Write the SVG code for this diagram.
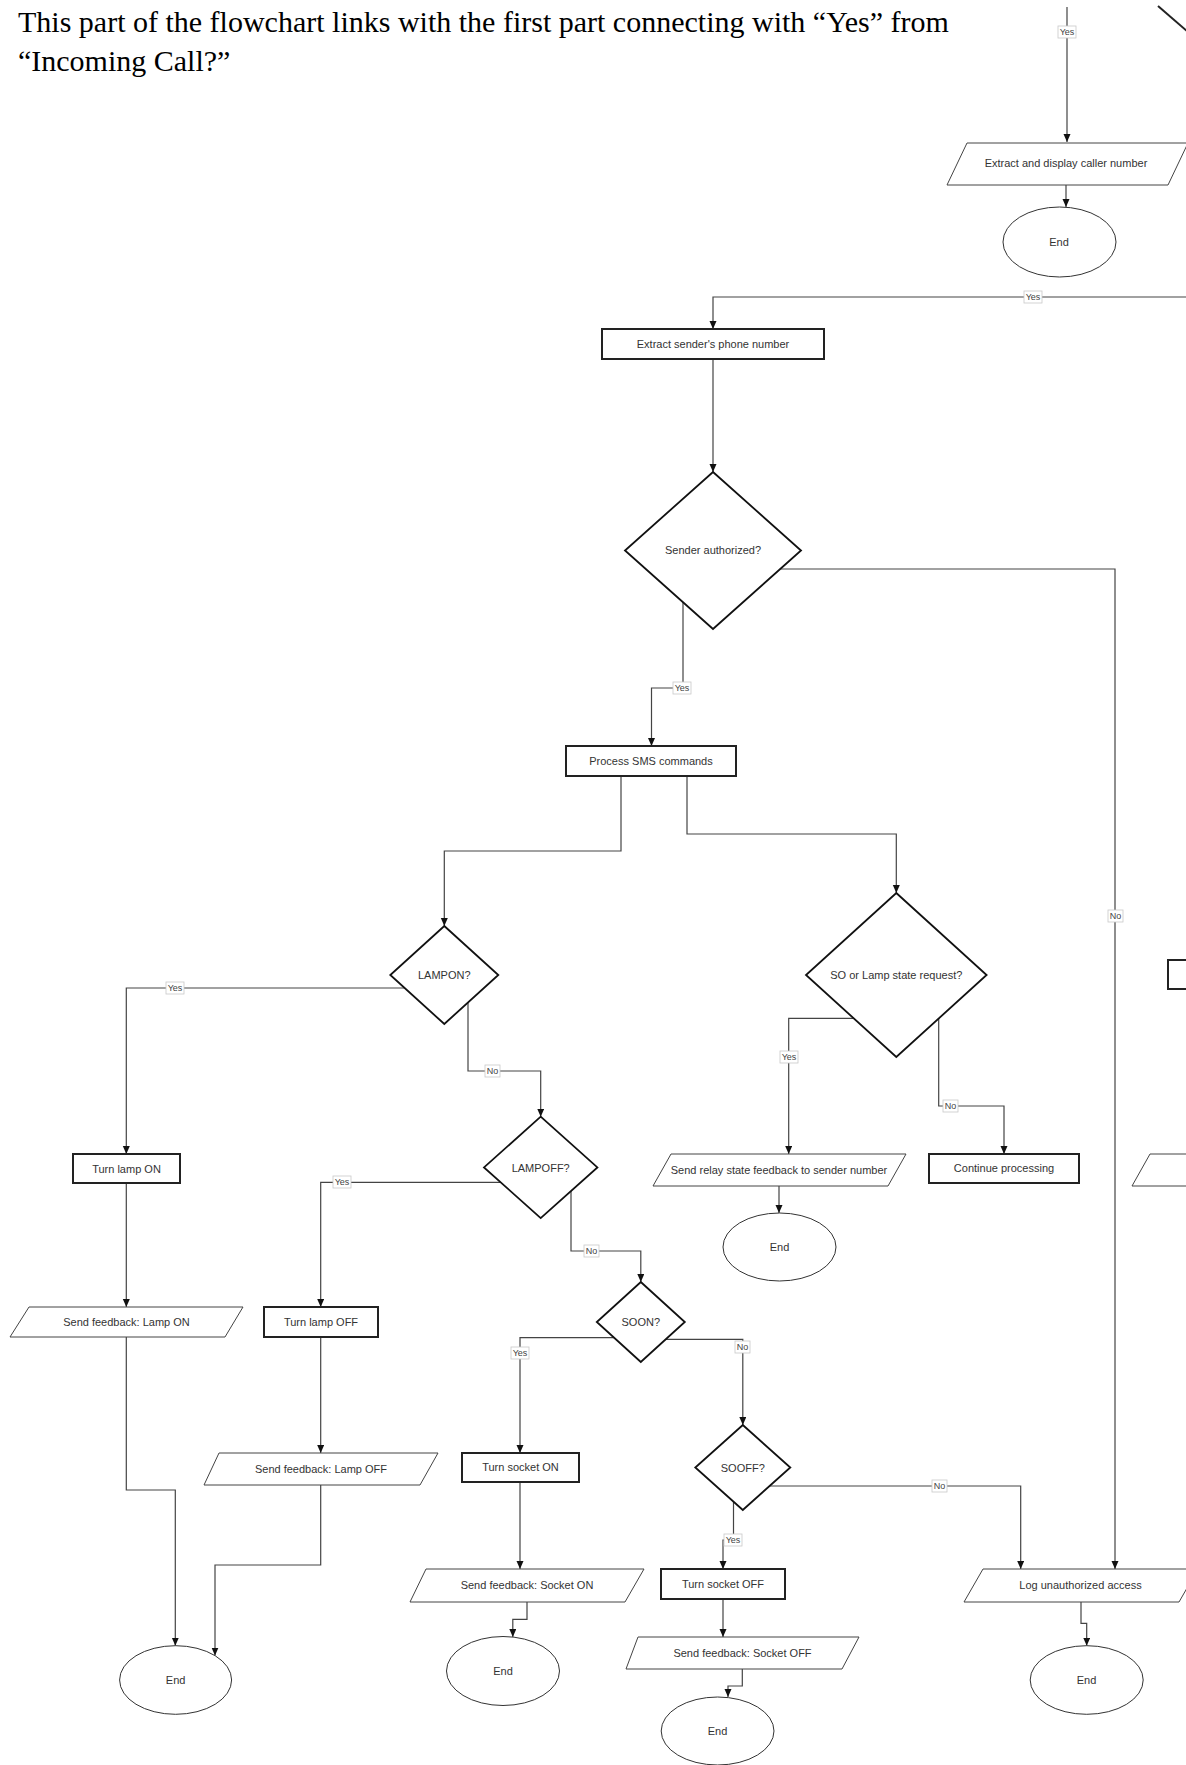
<svg xmlns="http://www.w3.org/2000/svg" width="1186" height="1765" viewBox="0 0 1186 1765">
<defs>
<marker id="arr" markerUnits="userSpaceOnUse" markerWidth="9" markerHeight="8" refX="8" refY="3.5" orient="auto">
<path d="M0,0 L8,3.5 L0,7 z" fill="#111"/>
</marker>
<style>
.t{font-family:"Liberation Sans",Arial,sans-serif;font-size:11px;fill:#333;text-anchor:middle;dominant-baseline:central}
.lb{font-family:"Liberation Sans",Arial,sans-serif;font-size:9px;fill:#444;text-anchor:middle;dominant-baseline:central}
.lbox{fill:#fff;stroke:#c8c8c8;stroke-width:0.8}
.rect{fill:#fff;stroke:#222;stroke-width:2}
.dia{fill:#fff;stroke:#111;stroke-width:1.8}
.para{fill:#fff;stroke:#444;stroke-width:1}
.ell{fill:#fff;stroke:#333;stroke-width:1}
.c{fill:none;stroke:#444;stroke-width:1.2;marker-end:url(#arr)}
.title{font-family:"Liberation Serif","Times New Roman",serif;font-size:30px;fill:#000}
</style>
</defs>
<rect width="1186" height="1765" fill="#fff"/>
<text class="title" x="18" y="32">This part of the flowchart links with the first part connecting with “Yes” from</text>
<text class="title" x="18" y="71">“Incoming Call?”</text>

<g id="connectors">
<path class="c" d="M1067,7 V142"/>
<path class="c" d="M1066,185 V207"/>
<path class="c" d="M1186,297 H713 V329"/>
<path class="c" d="M713,359 V472"/>
<path class="c" d="M780,569 H1115 V1569"/>
<path class="c" d="M683,602 V688 H651.5 V746"/>
<path class="c" d="M621,776 V851 H444.3 V926"/>
<path class="c" d="M687,776 V834 H896.3 V893"/>
<path class="c" d="M405,988 H126.3 V1154"/>
<path class="c" d="M468,1003 V1071 H540.7 V1116.7"/>
<path class="c" d="M500.7,1182.3 H320.7 V1307"/>
<path class="c" d="M571,1191 V1251 H640.8 V1282"/>
<path class="c" d="M854,1018.3 H788.7 V1154"/>
<path class="c" d="M938.7,1018 V1106 H1004 V1154"/>
<path class="c" d="M779,1186 V1213"/>
<path class="c" d="M126.3,1183 V1307"/>
<path class="c" d="M126.3,1337 V1490 H175.3 V1645.7"/>
<path class="c" d="M320.7,1337 V1453"/>
<path class="c" d="M320.7,1485 V1565 H215 V1655.5"/>
<path class="c" d="M614,1337.7 H520 V1453"/>
<path class="c" d="M666,1339.3 H742.8 V1425"/>
<path class="c" d="M520,1482 V1569"/>
<path class="c" d="M527,1602 V1619.3 H512.8 V1637"/>
<path class="c" d="M769.6,1486 H1020.7 V1569"/>
<path class="c" d="M733.5,1501.7 V1540 H723 V1569"/>
<path class="c" d="M723,1599 V1637"/>
<path class="c" d="M742.3,1669 V1686 H728 V1697"/>
<path class="c" d="M1081,1602 V1623.3 H1086.7 V1645.7"/>
<g id="labels">
<rect class="lbox" x="1058" y="26" width="18" height="12"/><text class="lb" x="1067" y="32">Yes</text>
<rect class="lbox" x="1024" y="291" width="18" height="12"/><text class="lb" x="1033" y="297">Yes</text>
<rect class="lbox" x="1108" y="910" width="15" height="12"/><text class="lb" x="1115.5" y="916">No</text>
<rect class="lbox" x="673" y="682" width="18" height="12"/><text class="lb" x="682" y="688">Yes</text>
<rect class="lbox" x="166" y="982" width="18" height="12"/><text class="lb" x="175" y="988">Yes</text>
<rect class="lbox" x="485" y="1065" width="15" height="12"/><text class="lb" x="492.5" y="1071">No</text>
<rect class="lbox" x="333" y="1176" width="18" height="12"/><text class="lb" x="342" y="1182">Yes</text>
<rect class="lbox" x="584" y="1245" width="15" height="12"/><text class="lb" x="591.5" y="1251">No</text>
<rect class="lbox" x="780" y="1051" width="18" height="12"/><text class="lb" x="789" y="1057">Yes</text>
<rect class="lbox" x="943" y="1100" width="15" height="12"/><text class="lb" x="950.5" y="1106">No</text>
<rect class="lbox" x="511" y="1347" width="18" height="12"/><text class="lb" x="520" y="1353">Yes</text>
<rect class="lbox" x="735" y="1341" width="15" height="12"/><text class="lb" x="742.5" y="1347">No</text>
<rect class="lbox" x="932" y="1480" width="15" height="12"/><text class="lb" x="939.5" y="1486">No</text>
<rect class="lbox" x="724" y="1534" width="18" height="12"/><text class="lb" x="733" y="1540">Yes</text>
</g>
</g>

<g id="partial-shape-top"><line x1="1158" y1="6" x2="1188" y2="32" stroke="#222" stroke-width="2"/></g>
<g id="extract-caller"><polygon class="para" points="947,185 967,143 1188,143 1168,185"/><text class="t" x="1066" y="163">Extract and display caller number</text></g>
<g id="end-caller"><ellipse class="ell" cx="1059.5" cy="242" rx="56.5" ry="35"/><text class="t" x="1059" y="242">End</text></g>
<g id="extract-sender"><rect class="rect" x="602" y="329" width="222" height="30"/><text class="t" x="713" y="344">Extract sender's phone number</text></g>
<g id="sender-authorized"><polygon class="dia" points="713,472 801,550.5 713,629 625,550.5"/><text class="t" x="713" y="550">Sender authorized?</text></g>
<g id="process-sms"><rect class="rect" x="566" y="746" width="170" height="30"/><text class="t" x="651" y="761">Process SMS commands</text></g>
<g id="lampon"><polygon class="dia" points="444.3,926 498.3,975 444.3,1024 390.3,975"/><text class="t" x="444.3" y="975">LAMPON?</text></g>
<g id="so-state"><polygon class="dia" points="896.3,893 986.6,975 896.3,1057 806,975"/><text class="t" x="896.3" y="974.5">SO or Lamp state request?</text></g>
<g id="turn-lamp-on"><rect class="rect" x="73" y="1154" width="107" height="29"/><text class="t" x="126.5" y="1168.5">Turn lamp ON</text></g>
<g id="lampoff"><polygon class="dia" points="540.7,1116.7 597.4,1167.4 540.7,1218.1 484,1167.4"/><text class="t" x="540.7" y="1167.5">LAMPOFF?</text></g>
<g id="send-relay"><polygon class="para" points="653,1186 671,1154 906,1154 888,1186"/><text class="t" x="779" y="1170">Send relay state feedback to sender number</text></g>
<g id="end-relay"><ellipse class="ell" cx="779.5" cy="1247" rx="56.5" ry="34"/><text class="t" x="779.5" y="1247">End</text></g>
<g id="continue"><rect class="rect" x="929" y="1154" width="150" height="29"/><text class="t" x="1004" y="1168">Continue processing</text></g>
<g id="partial-rect"><rect class="rect" x="1168" y="960" width="40" height="29"/></g>
<g id="partial-para"><polygon class="para" points="1132,1186 1150,1154 1200,1154 1190,1186"/></g>
<g id="send-lamp-on"><polygon class="para" points="10,1337 29,1307 243,1307 225,1337"/><text class="t" x="126.5" y="1322">Send feedback: Lamp ON</text></g>
<g id="turn-lamp-off"><rect class="rect" x="264" y="1307" width="114" height="30"/><text class="t" x="321" y="1321.5">Turn lamp OFF</text></g>
<g id="soon"><polygon class="dia" points="640.8,1282 684.8,1322 640.8,1362 596.8,1322"/><text class="t" x="640.8" y="1321.5">SOON?</text></g>
<g id="send-lamp-off"><polygon class="para" points="204,1485 219,1453 438,1453 420,1485"/><text class="t" x="321" y="1469">Send feedback: Lamp OFF</text></g>
<g id="turn-socket-on"><rect class="rect" x="462" y="1453" width="117" height="29"/><text class="t" x="520.5" y="1467">Turn socket ON</text></g>
<g id="sooff"><polygon class="dia" points="742.8,1425 790.3,1467.5 742.8,1510 695.3,1467.5"/><text class="t" x="742.8" y="1467.5">SOOFF?</text></g>
<g id="send-socket-on"><polygon class="para" points="410,1602 426,1569 644,1569 625,1602"/><text class="t" x="527" y="1585">Send feedback: Socket ON</text></g>
<g id="turn-socket-off"><rect class="rect" x="661" y="1569" width="124" height="30"/><text class="t" x="723" y="1584">Turn socket OFF</text></g>
<g id="log-unauth"><polygon class="para" points="964,1602 983,1569 1198,1569 1179,1602"/><text class="t" x="1080.5" y="1585">Log unauthorized access</text></g>
<g id="end-lamp"><ellipse class="ell" cx="175.6" cy="1680" rx="56" ry="34.3"/><text class="t" x="175.6" y="1680">End</text></g>
<g id="end-socket-on"><ellipse class="ell" cx="503" cy="1671" rx="56.5" ry="34.5"/><text class="t" x="503" y="1670.5">End</text></g>
<g id="send-socket-off"><polygon class="para" points="626,1669 638,1637 859,1637 842,1669"/><text class="t" x="742.5" y="1652.5">Send feedback: Socket OFF</text></g>
<g id="end-socket-off"><ellipse class="ell" cx="717.6" cy="1731" rx="56.4" ry="34"/><text class="t" x="717.5" y="1730.5">End</text></g>
<g id="end-log"><ellipse class="ell" cx="1086.7" cy="1680" rx="56.5" ry="34.3"/><text class="t" x="1086.5" y="1679.5">End</text></g>
</svg>
